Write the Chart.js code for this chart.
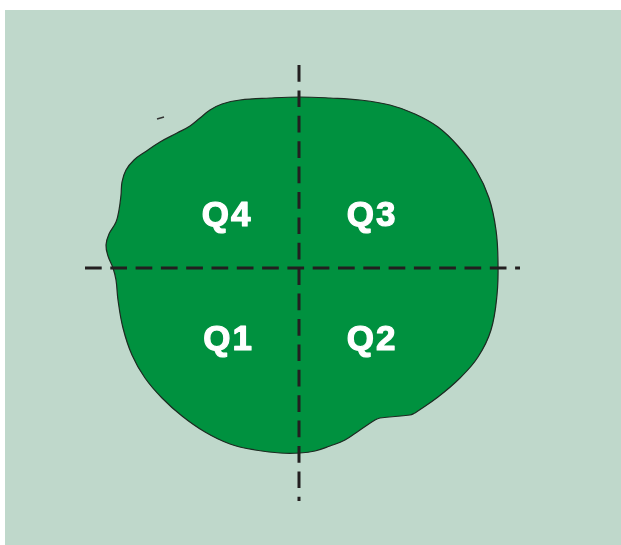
<!DOCTYPE html>
<html>
<head>
<meta charset="utf-8">
<script src="https://cdn.jsdelivr.net/npm/chart.js@4.4.0/dist/chart.umd.min.js"></script>
<style>
  html, body { margin: 0; padding: 0; background: #ffffff; }
  #c { display: block; }
</style>
</head>
<body>
<canvas id="c" width="621" height="545"></canvas>
<script>
// Outline of the region (centre of the cross = origin, y up)
const outlineX = [116, 111, 81, 76, 61, 46, 31, 16, 1, -19, -44, -69, -94, -117, -137, -154, -167, -176, -181, -183, -186, -191, -193, -190, -183, -180, -178, -177, -173, -165, -154, -139, -122, -109, -99, -89, -77, -59, -29, 1, 31, 61, 91, 116, 139, 159, 177, 190, 197, 199, 198, 192, 179, 161, 139, 116];
const outlineY = [-145, -147, -150, -152, -162, -172, -178, -183, -185, -185, -182, -176, -164, -148, -130, -110, -87, -60, -32, -12, 0, 12, 23, 34, 46, 58, 73, 86, 98, 108, 116, 126, 135, 142, 150, 158, 164, 168, 170, 171, 170, 168, 163, 154, 141, 122, 98, 70, 38, 6, -27, -62, -89, -110, -129, -145];

// Cross axes (extent)
const hAxisX = [-214, 221];
const vAxisY = [203, -233];

// Small stray stroke
const strokeX = [-142, -135];
const strokeY = [149, 151];

// Quadrant labels
const quadLabels = ["Q4", "Q3", "Q1", "Q2"];
const quadX = [-73, 72, -71.5, 72];
const quadY = [42, 42, -81.5, -81.5];

const toPts = (xs, ys) => xs.map((x, i) => ({ x: x, y: ys[i] }));

const bgPlugin = {
  id: 'bg',
  beforeDraw(chart) {
    const ctx = chart.ctx;
    ctx.save();
    ctx.fillStyle = '#ffffff';
    ctx.fillRect(0, 0, chart.width, chart.height);
    ctx.fillStyle = '#BFD8CB';
    ctx.fillRect(5, 10, chart.width - 5, chart.height - 10);
    ctx.restore();
  }
};

const labelPlugin = {
  id: 'quadLabels',
  afterDatasetsDraw(chart) {
    const ctx = chart.ctx;
    const xs = chart.scales.x, ys = chart.scales.y;
    ctx.save();
    ctx.fillStyle = '#ffffff';
    ctx.strokeStyle = '#ffffff';
    ctx.lineWidth = 1.2;
    ctx.lineJoin = 'round';
    ctx.font = 'bold 35px "Liberation Sans", Arial, sans-serif';
    ctx.textBaseline = 'alphabetic';
    ctx.textAlign = 'left';
    const spacing = 2;
    quadLabels.forEach((t, i) => {
      const chars = t.split('');
      const widths = chars.map(c => ctx.measureText(c).width);
      const total = widths.reduce((a, b) => a + b, 0) + spacing * (chars.length - 1);
      let px = xs.getPixelForValue(quadX[i]) - total / 2;
      const py = ys.getPixelForValue(quadY[i]);
      chars.forEach((c, k) => {
        ctx.fillText(c, px, py);
        ctx.strokeText(c, px, py);
        px += widths[k] + spacing;
      });
    });
    ctx.restore();
  }
};

new Chart(document.getElementById('c'), {
  type: 'scatter',
  data: {
    datasets: [
      {
        data: toPts(outlineX, outlineY),
        showLine: true,
        fill: 'shape',
        backgroundColor: '#00913F',
        borderColor: '#1E2A22',
        borderWidth: 1.2,
        pointRadius: 0,
        tension: 0.4,
        order: 3
      },
      {
        data: toPts(hAxisX, [0, 0]),
        showLine: true,
        fill: false,
        borderColor: '#231F20',
        borderWidth: 3,
        borderDash: [16.7, 8.6],
        pointRadius: 0,
        order: 1
      },
      {
        data: toPts([0, 0], vAxisY),
        showLine: true,
        fill: false,
        borderColor: '#231F20',
        borderWidth: 3,
        borderDash: [16.7, 8.7],
        pointRadius: 0,
        order: 1
      },
      {
        data: toPts(strokeX, strokeY),
        showLine: true,
        fill: false,
        borderColor: '#333333',
        borderWidth: 1.5,
        pointRadius: 0,
        order: 2
      }
    ]
  },
  options: {
    responsive: false,
    animation: false,
    events: [],
    layout: { padding: 0 },
    plugins: { legend: { display: false }, tooltip: { enabled: false } },
    scales: {
      x: { type: 'linear', display: false, min: -299, max: 322 },
      y: { type: 'linear', display: false, min: -277, max: 268 }
    }
  },
  plugins: [bgPlugin, labelPlugin]
});
</script>
</body>
</html>
